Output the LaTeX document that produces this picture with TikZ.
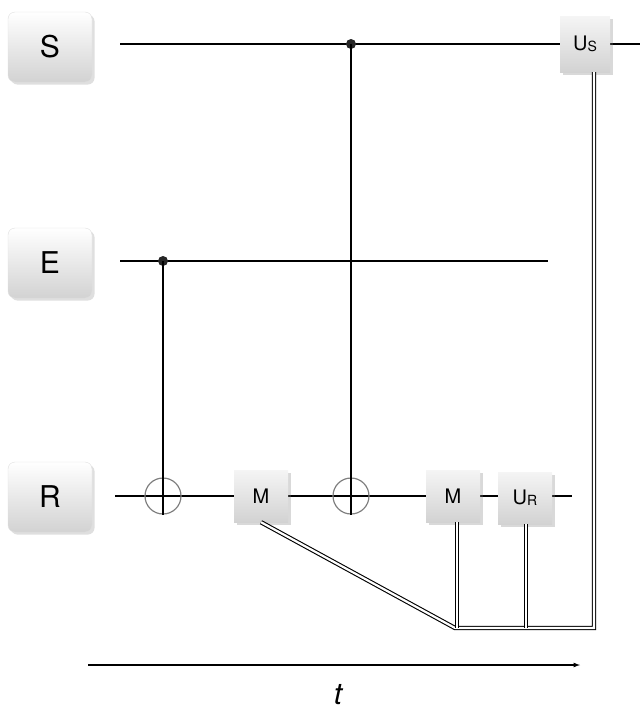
\documentclass[tikz,border=0pt]{standalone}
\usepackage{fontspec}
\setmainfont{TeX Gyre Heros}
\usetikzlibrary{shadows}
\begin{document}
\begin{tikzpicture}[x=1pt,y=-1pt,
  lbl/.style={rounded corners=7pt,minimum width=84pt,minimum height=70pt,top color=white,bottom color=gray!35,draw=gray!25,drop shadow={opacity=0.25},font=\fontsize{30}{30}\selectfont},
  gate/.style={minimum width=54pt,minimum height=52pt,top color=gray!8,bottom color=gray!35,draw=none,drop shadow={opacity=0.3},font=\fontsize{20}{20}\selectfont,inner sep=0pt},
  wire/.style={line width=1.4pt},
  cl/.style={double,line width=1.1pt,double distance=2.2pt},
  ctrl/.style={circle,fill=black!85,inner sep=0pt,minimum size=10pt},
  targ/.style={circle,draw=gray,line width=1.2pt,minimum size=36pt,inner sep=0pt}]
\useasboundingbox (0,0) rectangle (640,718);
\node[lbl] (S) at (50,47) {S};
\node[lbl] (E) at (50,263) {E};
\node[lbl] (R) at (50,497) {R};
\coordinate (s0) at (120,44); \coordinate (s1) at (640,44);
\coordinate (e0) at (120,261); \coordinate (e1) at (548,261);
\coordinate (r0) at (115,496); \coordinate (r1) at (572,496);
\draw[wire] (s0) -- (s1);
\draw[wire] (e0) -- (e1);
\draw[wire] (r0) -- (r1);
\node[targ] (t1) at (163,496) {};
\node[targ] (t2) at (351,496) {};
\node[ctrl] (c1) at (163,261) {};
\node[ctrl] (c2) at (351,44) {};
\draw[wire] (c1.center) -- (t1.south);
\draw[wire] (c2.center) -- (t2.south);
\node[gate] (M1) at (261,496) {M};
\node[gate] (M2) at (453,496) {M};
\node[gate] (UR) at (525,498) {U\raisebox{-0.1ex}{\fontsize{14}{14}\selectfont R}};
\node[gate,minimum width=50pt,minimum height=56pt] (US) at (585,44) {U\raisebox{-0.1ex}{\fontsize{14}{14}\selectfont S}};
\coordinate (j0) at (455,628);
\coordinate (j1) at (457,628);
\coordinate (j2) at (526,628);
\coordinate (j3) at (594,628);
\draw[cl] (M1.south) -- (j0) -- (j3) -- (US.south -| j3);
\draw[cl] (M2.south -| j1) -- (j1);
\draw[cl] (UR.south -| j2) -- (j2);
\coordinate (a0) at (88,665); \coordinate (a1) at (580,665);
\draw[line width=1.2pt,-latex] (a0) -- (a1);
\node[font=\fontsize{30}{30}\selectfont\itshape] (t) at (338,695) {t};
\end{tikzpicture}
\end{document}
